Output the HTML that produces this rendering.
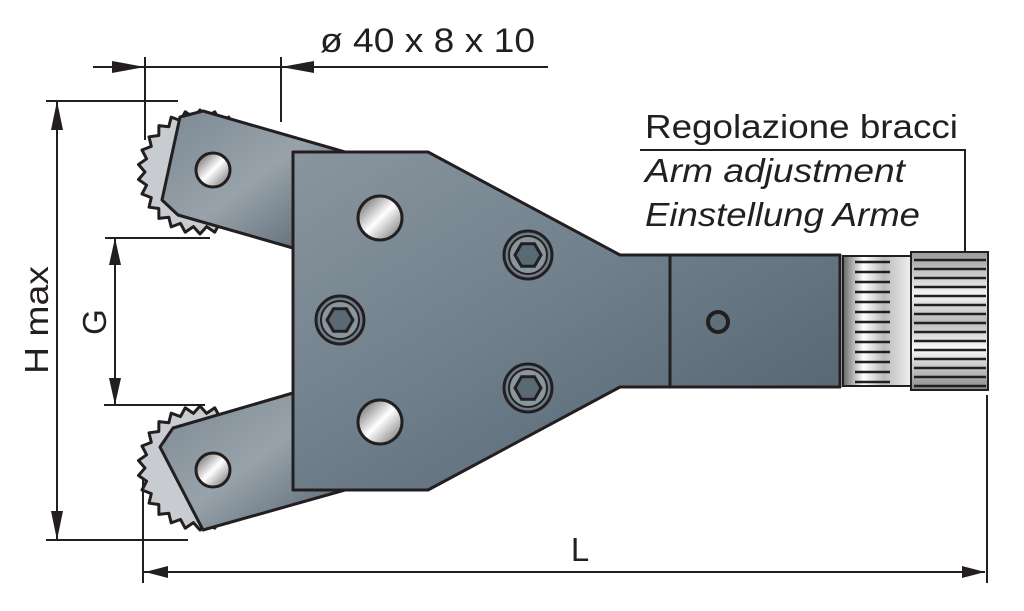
<!DOCTYPE html>
<html><head><meta charset="utf-8"><style>
html,body{margin:0;padding:0;background:#fff;}
svg{display:block;}
text{font-family:"Liberation Sans",sans-serif;fill:#231f20;}
</style></head><body>
<svg id="s" width="1024" height="611" viewBox="0 0 1024 611" xmlns="http://www.w3.org/2000/svg">
<defs>
<linearGradient id="steel" x1="0" y1="0" x2="1" y2="1">
<stop offset="0" stop-color="#8a959e"/><stop offset="0.45" stop-color="#6f808c"/><stop offset="1" stop-color="#4f5f6b"/>
</linearGradient>
<linearGradient id="arm" x1="0" y1="0" x2="1" y2="1">
<stop offset="0" stop-color="#7c8993"/><stop offset="0.5" stop-color="#98a2aa"/><stop offset="1" stop-color="#52626e"/>
</linearGradient>
<linearGradient id="hole" x1="0" y1="0" x2="1" y2="1">
<stop offset="0" stop-color="#555"/><stop offset="0.5" stop-color="#fff"/><stop offset="1" stop-color="#666"/>
</linearGradient>
<linearGradient id="chrome" x1="0" y1="0" x2="0" y2="1">
<stop offset="0" stop-color="#999"/><stop offset="0.3" stop-color="#f4f4f4"/><stop offset="0.5" stop-color="#bbb"/><stop offset="0.7" stop-color="#fafafa"/><stop offset="1" stop-color="#888"/>
</linearGradient>
<linearGradient id="chromeh" x1="0" y1="0" x2="1" y2="0">
<stop offset="0" stop-color="#666"/><stop offset="0.3" stop-color="#fff"/><stop offset="0.6" stop-color="#bbb"/><stop offset="1" stop-color="#eee"/>
</linearGradient>
</defs>
<g stroke="#231f20" stroke-width="2" fill="none">
<line x1="93" y1="67" x2="548" y2="67"/>
<line x1="145" y1="57" x2="145" y2="140"/>
<line x1="281" y1="57" x2="281" y2="122"/>
<line x1="57" y1="101" x2="57" y2="540"/>
<line x1="46" y1="101" x2="178" y2="101"/>
<line x1="46" y1="540" x2="188" y2="540"/>
<line x1="115" y1="238" x2="115" y2="405"/>
<line x1="105" y1="238" x2="210" y2="238"/>
<line x1="104" y1="405" x2="205" y2="405"/>
<line x1="143" y1="572" x2="985" y2="572"/>
<line x1="143" y1="480" x2="143" y2="583"/>
<line x1="987" y1="395" x2="987" y2="583"/>
<polyline points="640,150 965,150 965,272"/>
</g>
<g fill="#231f20">
<polygon points="145,67 112,61 112,73"/>
<polygon points="281,67 314,61 314,73"/>
<polygon points="57,101 51,130 63,130"/>
<polygon points="57,540 51,511 63,511"/>
<polygon points="115,238 109,265 121,265"/>
<polygon points="115,405 109,378 121,378"/>
<polygon points="145,572 168,566 168,578"/>
<polygon points="985,572 962,566 962,578"/>
</g>
<text x="320" y="52" font-size="34" textLength="215" lengthAdjust="spacingAndGlyphs">ø 40 x 8 x 10</text>
<text x="0" y="0" font-size="33" transform="translate(48,320) rotate(-90)" text-anchor="middle" textLength="108" lengthAdjust="spacingAndGlyphs">H max</text>
<text x="0" y="0" font-size="33" transform="translate(106,322) rotate(-90)" text-anchor="middle">G</text>
<text x="580" y="561" font-size="33" text-anchor="middle">L</text>
<text x="645" y="138" font-size="33" textLength="313" lengthAdjust="spacingAndGlyphs">Regolazione bracci</text>
<text x="645" y="182" font-size="33" font-style="italic" textLength="260" lengthAdjust="spacingAndGlyphs">Arm adjustment</text>
<text x="645" y="226" font-size="33" font-style="italic" textLength="275" lengthAdjust="spacingAndGlyphs">Einstellung Arme</text>

<g id="gears"></g>
<polygon points="180,117 203,111 345,152 293,152 293,248 178,215 162,200" fill="url(#arm)" stroke="#231f20" stroke-width="3" stroke-linejoin="round"/>
<polygon points="173,428 293,393 293,490 345,490 203,530 160,447" fill="url(#arm)" stroke="#231f20" stroke-width="3" stroke-linejoin="round"/>
<polygon points="293,152 428,152 620,255 840,255 840,387 620,387 428,490 293,490" fill="url(#steel)" stroke="#231f20" stroke-width="3" stroke-linejoin="round"/>
<line x1="670" y1="255" x2="670" y2="387" stroke="#231f20" stroke-width="3"/>
<rect x="843" y="256" width="68" height="130" fill="url(#chromeh)" stroke="#231f20" stroke-width="2"/>
<rect x="911" y="252" width="77" height="138" fill="url(#chrome)" stroke="#231f20" stroke-width="2"/>
<g id="knurl" stroke="#231f20" stroke-width="2.5"></g>
<g stroke="#231f20" stroke-width="3" fill="url(#hole)">
<circle cx="213" cy="170" r="17"/>
<circle cx="213" cy="470" r="17"/>
<circle cx="380" cy="218" r="22"/>
<circle cx="380" cy="422" r="22"/>
</g>
<circle cx="718" cy="322" r="10" fill="#5f707b" stroke="#231f20" stroke-width="4"/>
<g id="screws"></g>
</svg>
<script>
var NS="http://www.w3.org/2000/svg";
function gear(cx,cy,r,n){var d="";for(var i=0;i<=n*2;i++){var a=i*Math.PI/n;var rr=i%2?r+7:r;d+=(i?"L":"M")+(cx+rr*Math.cos(a)).toFixed(1)+","+(cy+rr*Math.sin(a)).toFixed(1);}return d+"Z";}
var g=document.getElementById("gears");
[[200,172],[200,468]].forEach(function(c){var p=document.createElementNS(NS,"path");p.setAttribute("d",gear(c[0],c[1],55,26));p.setAttribute("fill","#c8ccd0");p.setAttribute("stroke","#231f20");p.setAttribute("stroke-width","3");p.setAttribute("stroke-linejoin","round");g.appendChild(p);});
var k=document.getElementById("knurl");
for(var y=262;y<386;y+=10){var l=document.createElementNS(NS,"line");l.setAttribute("x1",855);l.setAttribute("x2",890);l.setAttribute("y1",y);l.setAttribute("y2",y);k.appendChild(l);}
for(var y=260;y<388;y+=9){var l=document.createElementNS(NS,"line");l.setAttribute("x1",914);l.setAttribute("x2",986);l.setAttribute("y1",y);l.setAttribute("y2",y);k.appendChild(l);}
var s=document.getElementById("screws");
[[340,320],[528,255],[528,388]].forEach(function(c){
var o=document.createElementNS(NS,"circle");o.setAttribute("cx",c[0]);o.setAttribute("cy",c[1]);o.setAttribute("r",24);o.setAttribute("fill","#6d7c86");o.setAttribute("stroke","#231f20");o.setAttribute("stroke-width","3");s.appendChild(o);
var o2=document.createElementNS(NS,"circle");o2.setAttribute("cx",c[0]);o2.setAttribute("cy",c[1]);o2.setAttribute("r",19);o2.setAttribute("fill","#8a969e");o2.setAttribute("stroke","#231f20");o2.setAttribute("stroke-width","2");s.appendChild(o2);
var pts="";for(var i=0;i<6;i++){var a=i*Math.PI/3;pts+=(c[0]+13*Math.cos(a)).toFixed(1)+","+(c[1]+13*Math.sin(a)).toFixed(1)+" ";}
var h=document.createElementNS(NS,"polygon");h.setAttribute("points",pts);h.setAttribute("fill","#5a6a75");h.setAttribute("stroke","#231f20");h.setAttribute("stroke-width","3");s.appendChild(h);});
</script>
</body></html>
